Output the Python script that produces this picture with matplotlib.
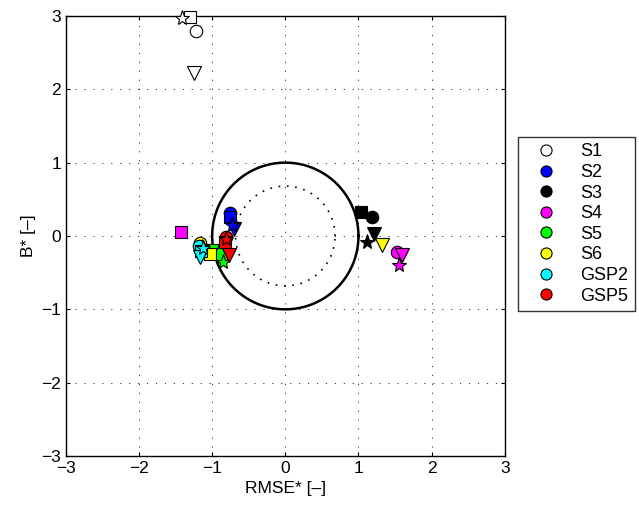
import numpy as np
import matplotlib.pyplot as plt
from matplotlib.lines import Line2D

plt.rcParams['font.family'] = ['Liberation Sans', 'DejaVu Sans']

names = ['S1', 'S2', 'S3', 'S4', 'S5', 'S6', 'GSP2', 'GSP5']
colors = ['white', 'blue', 'black', 'magenta', 'lime', 'yellow', 'cyan', 'red']

# (RMSE*, B*) for each model marker: circle, square, triangle, star
circ_x = [-1.22, -0.75, 1.18, 1.52, -0.90, -1.16, -1.18, -0.81]
circ_y = [2.80, 0.31, 0.26, -0.22, -0.21, -0.10, -0.14, -0.02]
sq_x = [-1.30, -0.75, 1.03, -1.43, -0.88, -1.03, -1.15, -0.82]
sq_y = [2.98, 0.26, 0.33, 0.06, -0.24, -0.24, -0.20, -0.08]
tri_x = [-1.25, -0.70, 1.21, 1.59, -1.00, 1.32, -1.17, -0.77]
tri_y = [2.22, 0.09, 0.03, -0.26, -0.20, -0.12, -0.28, -0.26]
star_x = [-1.41, -0.73, 1.12, 1.55, -0.85, -1.14, -1.12, -0.81]
star_y = [2.97, 0.15, -0.08, -0.40, -0.35, -0.15, -0.17, -0.04]

fig = plt.figure(figsize=(6.39, 5.13), dpi=100)
ax = fig.add_axes([0.103, 0.111, 0.687, 0.858])

t = np.linspace(0, 2 * np.pi, 400)
ax.plot(np.cos(t), np.sin(t), 'k-', lw=1.8)
ax.plot(0.68 * np.cos(t), 0.68 * np.sin(t), 'k', ls=(0, (1, 4)), lw=1.2)

for i in range(len(names)):
    ax.plot(circ_x[i], circ_y[i], 'o', mfc=colors[i], mec='k', ms=9, mew=0.8, clip_on=False, zorder=3)
    ax.plot(sq_x[i], sq_y[i], 's', mfc=colors[i], mec='k', ms=8, mew=0.8, clip_on=False, zorder=3)
    ax.plot(tri_x[i], tri_y[i], 'v', mfc=colors[i], mec='k', ms=10, mew=0.8, clip_on=False, zorder=3)
    ax.plot(star_x[i], star_y[i], '*', mfc=colors[i], mec='k', ms=11, mew=0.8, clip_on=False, zorder=3)

ax.set_xlim(-3, 3)
ax.set_ylim(-3, 3)
ax.set_xticks(range(-3, 4))
ax.set_yticks(range(-3, 4))
ax.grid(True, ls=(0, (1.2, 8)), color='#333333', lw=0.7)
ax.tick_params(direction='in', top=True, right=True, labelsize=12.5, length=3)
for s in ax.spines.values():
    s.set_linewidth(1.0)
ax.set_xlabel('RMSE* [\u2013]', fontsize=12.5)
ax.set_ylabel('B* [\u2013]', fontsize=12.5)

handles = [Line2D([], [], ls='', marker='o', mfc=c, mec='k', ms=8, mew=0.8) for c in colors]
leg = fig.legend(handles, names, loc='upper left', bbox_to_anchor=(0.811, 0.733),
                 fontsize=13, frameon=True, fancybox=False, edgecolor='k', borderaxespad=0,
                 handletextpad=0.7, handlelength=2.4, labelspacing=0.2, borderpad=0.35)
leg.get_frame().set_linewidth(1.0)

fig.savefig('out.png', dpi=100)
